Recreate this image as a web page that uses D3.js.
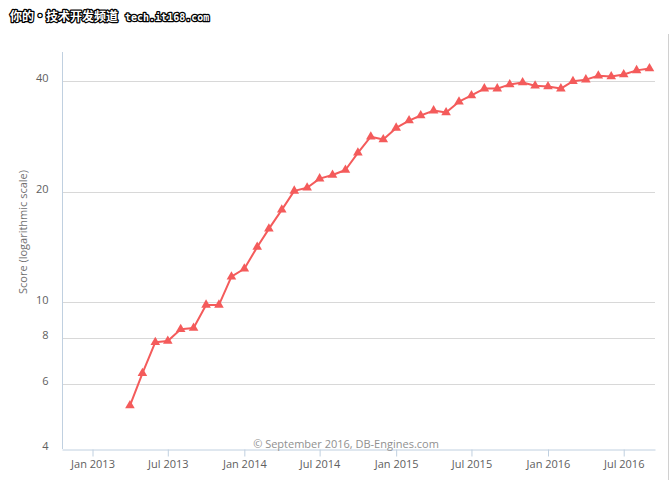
<!DOCTYPE html>
<html><head><meta charset="utf-8">
<script src="https://cdn.jsdelivr.net/npm/d3@7"></script>
<style>
html,body{margin:0;padding:0;background:#fff;}
svg{display:block;}
</style>
</head><body>
<script>
// ---- data ----
const months = ["2013-04","2013-05","2013-06","2013-07","2013-08","2013-09","2013-10","2013-11","2013-12",
"2014-01","2014-02","2014-03","2014-04","2014-05","2014-06","2014-07","2014-08","2014-09","2014-10","2014-11","2014-12",
"2015-01","2015-02","2015-03","2015-04","2015-05","2015-06","2015-07","2015-08","2015-09","2015-10","2015-11","2015-12",
"2016-01","2016-02","2016-03","2016-04","2016-05","2016-06","2016-07","2016-08","2016-09"];
const scores = [5.25,6.42,7.8,7.86,8.46,8.52,9.85,9.85,11.75,
12.35,14.15,15.85,17.85,20.1,20.5,21.7,22.2,22.9,25.5,28.2,27.7,
29.8,31.2,32.2,33.2,32.8,35.1,36.5,38.1,38.1,39.1,39.6,38.8,
38.6,38.1,39.9,40.3,41.3,41.1,41.6,42.7,43.2];
const yTicks = [4,6,8,10,20,40];
const xTickDates = ["2013-01","2013-07","2014-01","2014-07","2015-01","2015-07","2016-01","2016-07"];
const xTickLabels = ["Jan 2013","Jul 2013","Jan 2014","Jul 2014","Jan 2015","Jul 2015","Jan 2016","Jul 2016"];
const yTitle = "Score (logarithmic scale)";
const credit = "© September 2016, DB-Engines.com";

// ---- layout ----
const W = 670, H = 480;
const plot = {left: 62, right: 655, top: 52, bottom: 449};
const parse = d3.utcParse("%Y-%m");
const red = "#f45b5b";

const svg = d3.select("body").append("svg").attr("width", W).attr("height", H);

// x scale anchored on two reference dates
const x0 = parse("2013-01"), x1 = parse("2016-07");
const xs = d3.scaleUtc().domain([x0, x1]).range([92.5, 623.7]);
const x = d3.scaleUtc().domain([xs.invert(plot.left), xs.invert(plot.right)]).range([plot.left, plot.right]);

const y = d3.scaleLog().domain([4, 47.9]).range([plot.bottom, plot.top]);

// right frame edge
svg.append("line").attr("x1", W - 1.5).attr("x2", W - 1.5).attr("y1", 34).attr("y2", H)
  .attr("stroke", "#d0d0d0");

// gridlines
svg.append("g").selectAll("line").data(yTicks.filter(d => d > 4)).join("line")
  .attr("x1", plot.left).attr("x2", plot.right)
  .attr("y1", d => Math.round(y(d)) + 0.5).attr("y2", d => Math.round(y(d)) + 0.5)
  .attr("stroke", "#d8d8d8").attr("stroke-width", 1);

// y axis
const yAxis = d3.axisLeft(y).tickValues(yTicks).tickFormat(d3.format("d")).tickSize(0).tickPadding(14);
const gy = svg.append("g").attr("transform", `translate(${plot.left + 0.5},0)`).call(yAxis);
gy.select(".domain").remove();
gy.selectAll("text").attr("font-family", "'Open Sans', 'DejaVu Sans', sans-serif")
  .attr("font-size", "11px").attr("fill", "#606060").attr("dy", "0.05em");
svg.append("line").attr("x1", plot.left + 0.5).attr("x2", plot.left + 0.5)
  .attr("y1", plot.top).attr("y2", plot.bottom).attr("stroke", "#c0d0e0");

// x axis
const xAxis = d3.axisBottom(x).tickValues(xTickDates.map(parse))
  .tickFormat((d, i) => xTickLabels[i]).tickSize(7).tickPadding(4).tickSizeOuter(0);
const gx = svg.append("g").attr("transform", `translate(0,${plot.bottom + 0.5})`).call(xAxis);
gx.select(".domain").attr("stroke", "#c0d0e0");
gx.selectAll(".tick line").attr("stroke", "#c0d0e0");
gx.selectAll("text").attr("font-family", "'Open Sans', 'DejaVu Sans', sans-serif")
  .attr("font-size", "11px").attr("fill", "#606060");

// y title
svg.append("text").attr("transform", "translate(27,232) rotate(-90)")
  .attr("text-anchor", "middle").attr("font-family", "'Open Sans', 'DejaVu Sans', sans-serif")
  .attr("font-size", "11px").attr("fill", "#707070").text(yTitle);

// credit
svg.append("text").attr("x", 346).attr("y", 448).attr("text-anchor", "middle")
  .attr("font-family", "'Open Sans', 'DejaVu Sans', sans-serif").attr("font-size", "11px")
  .attr("fill", "#909090").text(credit);

// series
const data = months.map((m, i) => ({d: parse(m), v: scores[i]}));
svg.append("path").datum(data)
  .attr("fill", "none").attr("stroke", red).attr("stroke-width", 2).attr("stroke-linejoin", "round")
  .attr("d", d3.line().x(d => x(d.d)).y(d => y(d.v)));
const tri = d3.symbol().type(d3.symbolTriangle).size(40);
svg.append("g").selectAll("path").data(data).join("path")
  .attr("transform", d => `translate(${x(d.d)},${y(d.v)})`)
  .attr("d", tri).attr("fill", red);

// watermark
const wm = svg.append("g").attr("font-weight", "bold");
wm.append("text").attr("x", 10).attr("y", 21)
  .attr("font-family", "'Noto Sans CJK SC', sans-serif").attr("font-size", "12px")
  .attr("fill", "#fff").attr("stroke", "#000").attr("stroke-width", 2.5).attr("paint-order", "stroke")
  .attr("stroke-linejoin", "round")
  .text("你的•技术开发频道");
wm.append("text").attr("x", 125).attr("y", 21)
  .attr("font-family", "'DejaVu Sans Mono', monospace").attr("font-size", "10px")
  .attr("fill", "#fff").attr("stroke", "#000").attr("stroke-width", 2.5).attr("paint-order", "stroke")
  .attr("stroke-linejoin", "round")
  .text("tech.it168.com");
</script>
</body></html>
